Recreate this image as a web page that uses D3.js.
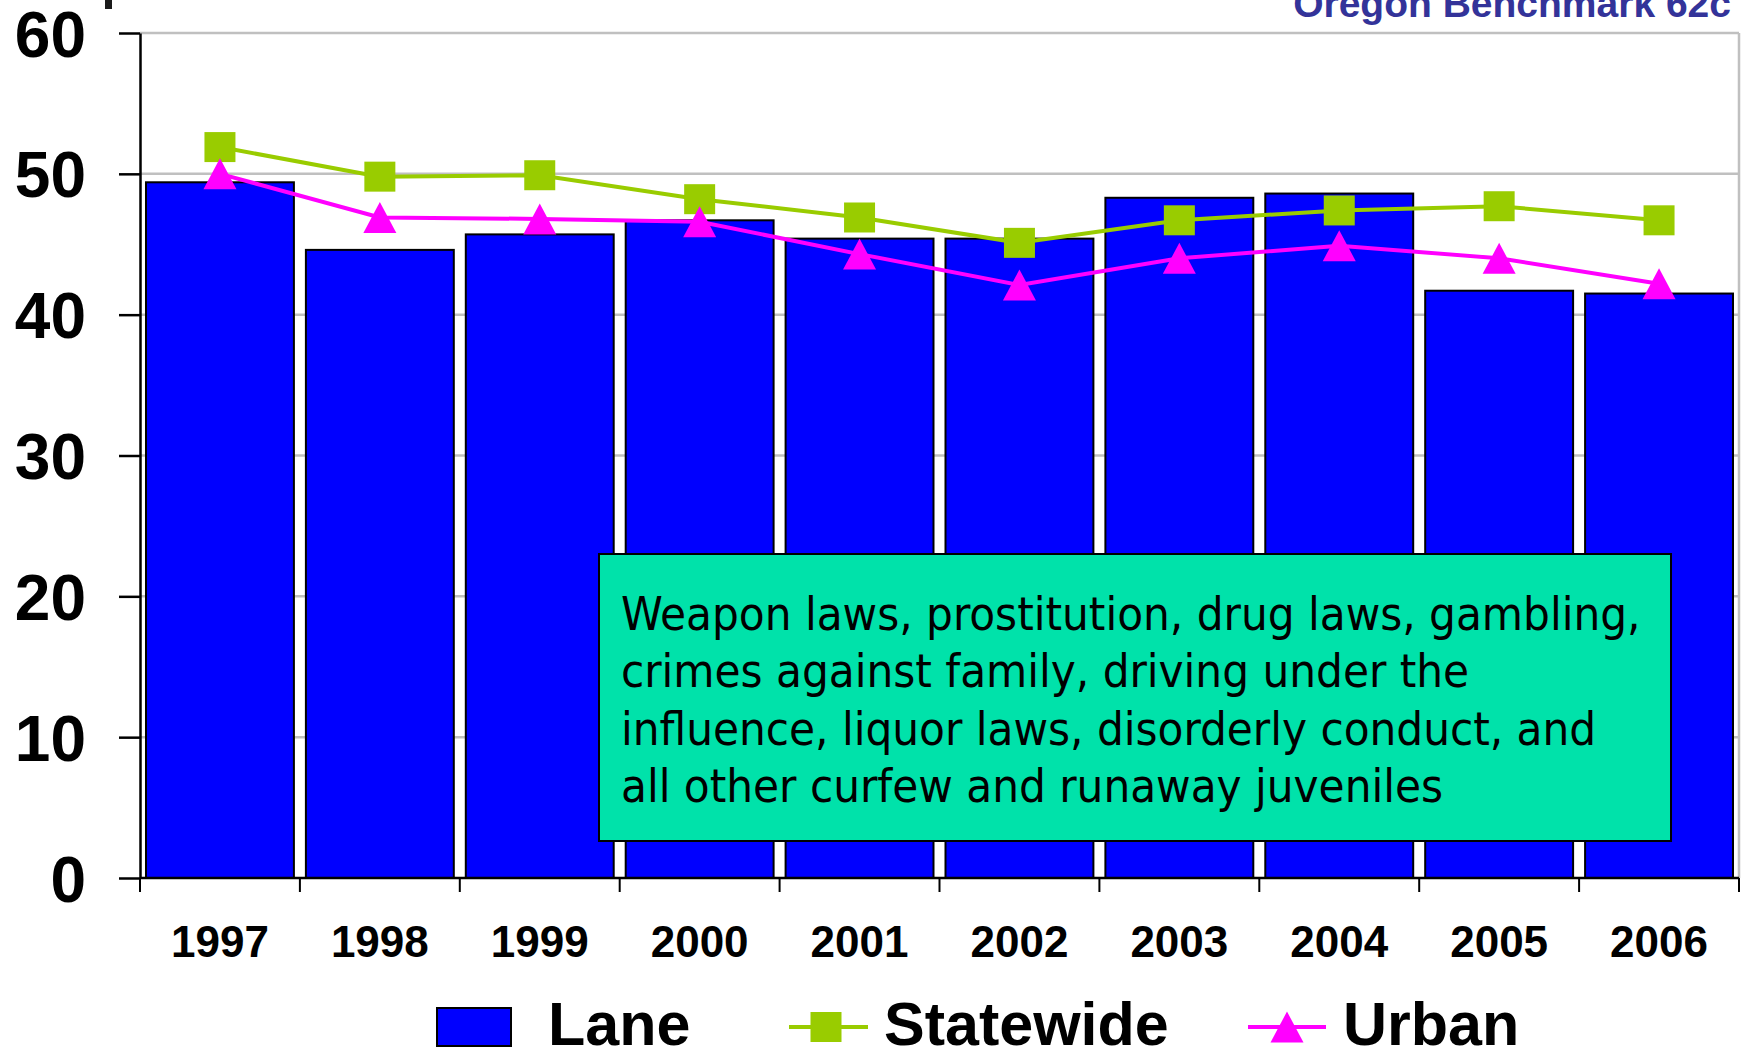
<!DOCTYPE html>
<html>
<head>
<meta charset="utf-8">
<script src="https://cdn.jsdelivr.net/npm/d3@7"></script>
<style>
  html, body { margin: 0; padding: 0; background: #fff; }
  svg { display: block; }
</style>
</head>
<body>
<svg id="chart" width="1744" height="1050"></svg>
<script>
// Juvenile arrests per 1,000 — behavioural offenses, 1997–2006
const years = ["1997", "1998", "1999", "2000", "2001", "2002", "2003", "2004", "2005", "2006"];
const lane = [49.4, 44.6, 45.7, 46.7, 45.4, 45.4, 48.3, 48.6, 41.7, 41.5];
const statewide = [51.9, 49.8, 49.9, 48.2, 46.9, 45.1, 46.7, 47.4, 47.7, 46.7];
const urban = [50.0, 46.9, 46.8, 46.6, 44.3, 42.1, 44.0, 44.9, 44.0, 42.2];
const yTicks = [0, 10, 20, 30, 40, 50, 60];
const seriesNames = ["Lane", "Statewide", "Urban"];
const titleText = "Oregon Benchmark 62c";
const noteLines = [
  "Weapon laws, prostitution, drug laws, gambling,",
  "crimes against family, driving under the",
  "influence, liquor laws, disorderly conduct, and",
  "all other curfew and runaway juveniles"
];

(function draw() {
  const BLUE = "#0000FF", GREEN = "#99CC00", MAGENTA = "#FF00FF";
  const boldFont = "'Liberation Sans', Arial, sans-serif";

  const svg = d3.select("#chart");
  const plotLeft = 140, plotRight = 1739, plotTop = 33, plotBottom = 878;

  const x = d3.scaleBand().domain(years).range([plotLeft, plotRight])
    .paddingInner(0.075).paddingOuter(0.0375);
  const y = d3.scaleLinear().domain([0, 60]).range([plotBottom, plotTop]);
  const cx = d => x(d) + x.bandwidth() / 2;

  svg.append("rect").attr("width", 1744).attr("height", 1050).attr("fill", "#fff");

  // fragment at the top-left corner
  svg.append("rect").attr("x", 105).attr("y", 0).attr("width", 7).attr("height", 9).attr("fill", "#1a1a1a");

  // title
  svg.append("text")
    .attr("x", 1731).attr("y", 17)
    .attr("text-anchor", "end")
    .attr("font-family", boldFont).attr("font-weight", "bold")
    .attr("font-size", 39).attr("fill", "#333399")
    .text(titleText);

  // gridlines and plot-area border
  const grid = svg.append("g");
  grid.selectAll("line.h").data(yTicks.filter(d => d > 0)).join("line")
    .attr("x1", plotLeft).attr("x2", plotRight)
    .attr("y1", d => y(d)).attr("y2", d => y(d))
    .attr("stroke", "#C0C0C0").attr("stroke-width", 2.5);
  grid.append("line")
    .attr("x1", plotRight).attr("x2", plotRight).attr("y1", plotTop).attr("y2", plotBottom)
    .attr("stroke", "#C0C0C0").attr("stroke-width", 2.5);

  // bars
  svg.append("g").selectAll("rect").data(years).join("rect")
    .attr("x", d => x(d))
    .attr("y", (d, i) => y(lane[i]))
    .attr("width", x.bandwidth())
    .attr("height", (d, i) => y(0) - y(lane[i]))
    .attr("fill", BLUE).attr("stroke", "#000").attr("stroke-width", 2);

  // lines
  const line = d3.line().x(d => cx(d[0])).y(d => y(d[1]));
  svg.append("path")
    .datum(years.map((yr, i) => [yr, statewide[i]]))
    .attr("d", line).attr("fill", "none")
    .attr("stroke", GREEN).attr("stroke-width", 4);
  svg.append("path")
    .datum(years.map((yr, i) => [yr, urban[i]]))
    .attr("d", line).attr("fill", "none")
    .attr("stroke", MAGENTA).attr("stroke-width", 4);

  // markers
  const squarePath = "M-15.5,-15 L15.5,-15 L15.5,15 L-15.5,15 Z";
  const trianglePath = "M0,-15.5 L16.5,15.5 L-16.5,15.5 Z";
  svg.append("g").selectAll("path").data(years).join("path")
    .attr("d", squarePath)
    .attr("transform", (d, i) => `translate(${cx(d)},${y(statewide[i])})`)
    .attr("fill", GREEN);
  svg.append("g").selectAll("path").data(years).join("path")
    .attr("d", trianglePath)
    .attr("transform", (d, i) => `translate(${cx(d)},${y(urban[i])})`)
    .attr("fill", MAGENTA);

  // y axis
  const yAxis = svg.append("g")
    .attr("transform", `translate(${plotLeft},0)`)
    .call(d3.axisLeft(y).tickValues(yTicks).tickSize(21).tickSizeOuter(0).tickPadding(33).tickFormat(d3.format("d")));
  yAxis.select(".domain").attr("stroke", "#000").attr("stroke-width", 2.5);
  yAxis.selectAll(".tick line").attr("stroke", "#000").attr("stroke-width", 2.5);
  yAxis.selectAll(".tick text")
    .attr("font-family", boldFont).attr("font-weight", "bold")
    .attr("font-size", 64).attr("fill", "#000").attr("dy", "0.36em");

  // x axis: baseline, boundary ticks, year labels
  const xAxis = svg.append("g");
  xAxis.append("line")
    .attr("x1", plotLeft).attr("x2", plotRight).attr("y1", plotBottom).attr("y2", plotBottom)
    .attr("stroke", "#000").attr("stroke-width", 2.5);
  const gap = (x.step() - x.bandwidth()) / 2;
  const bounds = years.map(d => x(d) - gap).concat([x(years[years.length - 1]) + x.bandwidth() + gap]);
  xAxis.selectAll("line.tk").data(bounds).join("line").attr("class", "tk")
    .attr("x1", d => d).attr("x2", d => d)
    .attr("y1", plotBottom).attr("y2", plotBottom + 14)
    .attr("stroke", "#000").attr("stroke-width", 2);
  xAxis.selectAll("text").data(years).join("text")
    .attr("x", d => cx(d)).attr("y", 957)
    .attr("text-anchor", "middle")
    .attr("font-family", boldFont).attr("font-weight", "bold")
    .attr("font-size", 44).attr("fill", "#000")
    .text(d => d);

  // annotation box
  const note = svg.append("g");
  note.append("rect")
    .attr("x", 599).attr("y", 554).attr("width", 1072).attr("height", 287)
    .attr("fill", "#00E2AA").attr("stroke", "#000").attr("stroke-width", 2);
  note.selectAll("text").data(noteLines).join("text")
    .attr("x", 621).attr("y", (d, i) => 630 + i * 57.3)
    .attr("font-family", "'DejaVu Sans', sans-serif")
    .attr("font-stretch", "condensed")
    .attr("font-size", 47).attr("fill", "#000")
    .text(d => d);

  // legend
  const legend = svg.append("g");
  const legendY = 1027;
  legend.append("rect")
    .attr("x", 437).attr("y", 1008).attr("width", 74).attr("height", 38)
    .attr("fill", BLUE).attr("stroke", "#000").attr("stroke-width", 2);
  legend.append("line")
    .attr("x1", 789).attr("x2", 868).attr("y1", legendY).attr("y2", legendY)
    .attr("stroke", GREEN).attr("stroke-width", 4);
  legend.append("path").attr("d", squarePath)
    .attr("transform", `translate(826,${legendY})`).attr("fill", GREEN);
  legend.append("line")
    .attr("x1", 1248).attr("x2", 1326).attr("y1", legendY).attr("y2", legendY)
    .attr("stroke", MAGENTA).attr("stroke-width", 4);
  legend.append("path").attr("d", trianglePath)
    .attr("transform", `translate(1287,${legendY})`).attr("fill", MAGENTA);
  const legendTextX = [548, 884, 1343];
  legend.selectAll("text").data(seriesNames).join("text")
    .attr("x", (d, i) => legendTextX[i]).attr("y", 1045)
    .attr("font-family", boldFont).attr("font-weight", "bold")
    .attr("font-size", 61).attr("fill", "#000")
    .text(d => d);
})();
</script>
</body>
</html>
